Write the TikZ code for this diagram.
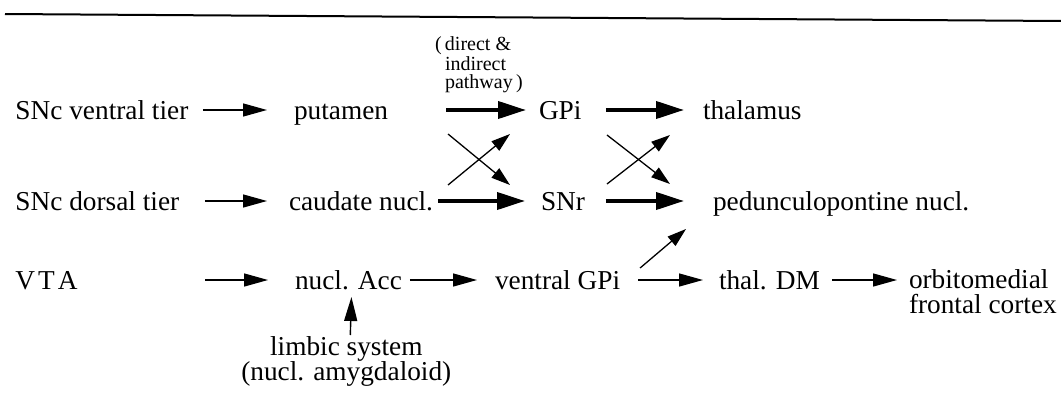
\documentclass[tikz,border=0pt]{standalone}
\usepackage{fontspec}
\setmainfont{Liberation Serif}
\usetikzlibrary{arrows.meta,calc}
\begin{document}
\begin{tikzpicture}[x=1pt,y=-1pt,
  lbl/.style={font=\fontsize{27.3}{30}\selectfont, inner sep=0pt, outer sep=0pt, text height=19pt, text depth=1pt, anchor=west},
  thinarr/.style={line width=1.4pt, -{Triangle[length=24pt,width=13pt]}},
  thickarr/.style={line width=3.8pt, -{Triangle[length=28pt,width=17pt]}},
  diagarr/.style={line width=1.3pt, -{Triangle[length=19pt,width=12pt]}}]
\useasboundingbox (0,0) rectangle (1061,399);
\draw[line width=2pt] (5,14) -- (1061,21);

% row 1
\node[lbl] (snv) at (15.5,110) {SNc ventral tier};
\node[lbl] (put) at (294,110) {putamen};
\node[lbl] (gpi) at (539,110) {GPi};
\node[lbl] (thal) at (703,110) {thalamus};
% row 2
\node[lbl] (snd) at (15.5,201) {SNc dorsal tier};
\node[lbl] (cau) at (289,201) {caudate nucl.};
\node[lbl] (snr) at (541,201) {SNr};
\node[lbl] (ppn) at (713,201) {pedunculopontine nucl.};
% row 3
\node[lbl] (vta) at (15.5,280) {V\kern3pt T\kern3pt A};
\node[lbl] (acc) at (295,280) {nucl. Acc};
\node[lbl] (vgpi) at (495,280) {ventral GPi};
\node[lbl] (tdm) at (719,280) {thal. DM};
\node[font=\fontsize{27.3}{25}\selectfont, align=left, inner sep=0pt, outer sep=0pt, anchor=north west] (orb) at (909,269.5) {orbitomedial\\frontal cortex};
\node[font=\fontsize{27.3}{25}\selectfont, align=center, inner sep=0pt, outer sep=0pt, anchor=north] (lim) at (346.3,337) {limbic system\\(nucl. amygdaloid)};
\node[font=\fontsize{20}{18}\selectfont, align=left, inner sep=0pt, outer sep=0pt, anchor=north west] (path) at (445,37) {\llap{(\,}direct \&\\indirect\\pathway\,)};

% row 1 arrows
\draw[thinarr] ($(snv.east)+(14.6,0)$) -- ($(put.west)+(-27,0)$);
\draw[thickarr] ($(put.east)+(58,0)$) -- ($(gpi.west)+(-13,0)$);
\draw[thickarr] ($(gpi.east)+(24.5,0)$) -- ($(thal.west)+(-19,0)$);
% row 2 arrows
\draw[thinarr] ($(snd.east)+(25.7,0)$) -- ($(cau.west)+(-22,0)$);
\draw[thickarr] ($(cau.east)+(5,0)$) -- ($(snr.west)+(-16,0)$);
\draw[thickarr] ($(snr.east)+(21,0)$) -- ($(ppn.west)+(-29,0)$);
% row 3 arrows
\draw[thinarr] ($(vta.east)+(127.5,0)$) -- ($(acc.west)+(-27,0)$);
\draw[thinarr] ($(acc.east)+(8,0)$) -- ($(vgpi.west)+(-18,0)$);
\draw[thinarr] ($(vgpi.east)+(18,0)$) -- ($(tdm.west)+(-16,0)$);
\draw[thinarr] ($(tdm.east)+(12.4,0)$) -- ($(tdm -| orb.west)+(-12,0)$);
\draw[thinarr] ($(lim.north)+(4,-2)$) -- ($(acc.south)+(3,7)$);
% crossing arrows
\draw[diagarr] ($(put.east)+(60,24)$) -- ($(snr.west)+(-31,-16)$);
\draw[diagarr] ($(cau.east)+(15,-16)$) -- ($(gpi.west)+(-29,24)$);
\draw[diagarr] ($(gpi.east)+(25.5,25)$) -- ($(ppn.west)+(-43,-17)$);
\draw[diagarr] ($(snr.east)+(22,-17)$) -- ($(thal.west)+(-33,25)$);
\draw[diagarr] ($(vgpi.east)+(20,-12)$) -- ($(ppn.west)+(-27,28)$);
\end{tikzpicture}
\end{document}
